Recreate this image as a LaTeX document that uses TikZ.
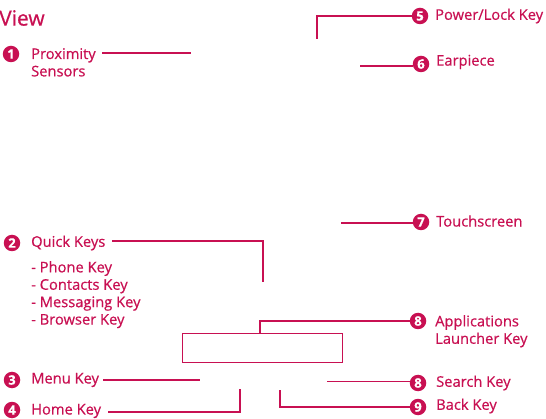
\documentclass[tikz,border=0pt]{standalone}
\usepackage{fontspec}
\setmainfont{Open Sans}[FakeBold=0.6]
\definecolor{lgred}{RGB}{200,16,82}
\begin{document}
\begin{tikzpicture}[x=1pt,y=-1pt,
  num/.style={circle,fill=lgred,inner sep=0pt,minimum size=16.5pt,text=white,font=\fontsize{13}{12}\selectfont\bfseries},
  lbl/.style={anchor=west,text=lgred,inner sep=0pt,font=\fontsize{14.7}{17}\selectfont},
  lbl2/.style={anchor=north west,align=left,text=lgred,inner sep=0pt,font=\fontsize{14.7}{17.4}\selectfont},
  ln/.style={draw=lgred,line width=1.2pt}]
\useasboundingbox (0,0) rectangle (546,419);
\node[anchor=west,text=lgred,inner sep=0pt,font=\fontsize{21}{21}\selectfont] (view) at (-1,18) {View};
% 1
\node[num] (n1) at (11,54) {1};
\node[lbl2] (t1) at (31,48) {Proximity\\Sensors};
\coordinate (a1) at (102,53); \coordinate (b1) at (191,53);
\draw[ln] (a1) -- (b1);
% 5
\node[num] (n5) at (420,16) {5};
\node[lbl] (t5) at (435,16) {Power/Lock Key};
\coordinate (a5) at (317,39);
\draw[ln] (a5) |- (n5.west);
% 6
\node[num] (n6) at (421,64) {6};
\node[lbl] (t6) at (436,62) {Earpiece};
\coordinate (a6) at (360,66);
\draw[ln] (a6) -- (a6 -| n6.west);
% 7
\node[num] (n7) at (421,222) {7};
\node[lbl] (t7) at (436,221) {Touchscreen};
\coordinate (a7) at (341,223);
\draw[ln] (a7) -- (a7 -| n7.west);
% 2
\node[num] (n2) at (12,243) {2};
\node[lbl] (t2) at (31,243) {Quick Keys};
\coordinate (a2) at (263,282);
\coordinate (q2) at (112,241);
\draw[ln] (q2) -| (a2);
\node[lbl2] (t2b) at (31,261) {- Phone Key\\- Contacts Key\\- Messaging Key\\- Browser Key};
% rectangle
\node[draw=lgred,line width=1.2pt,minimum width=160pt,minimum height=29pt,inner sep=0pt,anchor=north west] (rect) at (182,333) {};
\node[num] (n8a) at (418,321) {8};
\node[lbl2] (t8a) at (435,315) {Applications\\Launcher Key};
\coordinate (a8) at (260,333);
\draw[ln] (a8) |- (n8a.west);
% 3
\node[num] (n3) at (12,380) {3};
\node[lbl] (t3) at (31,380) {Menu Key};
\coordinate (a3) at (200,380);
\coordinate (m3) at (103,380);
\draw[ln] (m3) -- (a3);
% 4
\node[num] (n4) at (12,410) {4};
\node[lbl] (t4) at (31,411) {Home Key};
\coordinate (a4) at (240,389);
\coordinate (h4) at (108,412);
\draw[ln] (h4) -| (a4);
% 8 search
\node[num] (n8b) at (418,383) {8};
\node[lbl] (t8b) at (436,383) {Search Key};
\coordinate (a8b) at (327,381.3);
\draw[ln] (a8b) -- (a8b -| n8b.west);
% 9
\node[num] (n9) at (418,407) {9};
\node[lbl] (t9) at (436,406) {Back Key};
\coordinate (a9) at (280,390);
\draw[ln] (a9) |- (n9.west);
\end{tikzpicture}
\end{document}
